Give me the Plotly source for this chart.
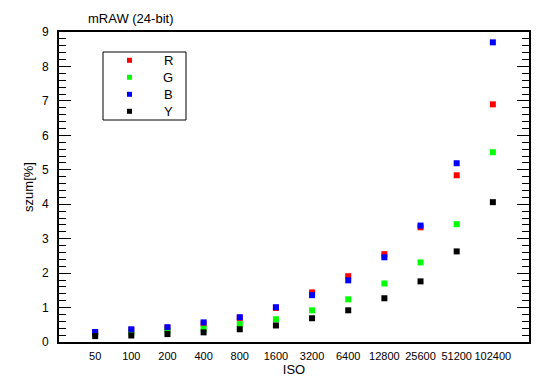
import plotly.graph_objects as go

iso = ["50", "100", "200", "400", "800", "1600", "3200", "6400", "12800", "25600", "51200", "102400"]
R = [0.27, 0.35, 0.41, 0.53, 0.70, 0.99, 1.44, 1.91, 2.55, 3.33, 4.84, 6.90]
G = [0.22, 0.28, 0.33, 0.39, 0.52, 0.66, 0.92, 1.24, 1.70, 2.31, 3.42, 5.51]
B = [0.29, 0.37, 0.43, 0.57, 0.72, 1.01, 1.36, 1.79, 2.46, 3.38, 5.19, 8.70]
Y = [0.17, 0.19, 0.23, 0.28, 0.37, 0.48, 0.69, 0.92, 1.27, 1.76, 2.63, 4.06]

names = ["R", "G", "B", "Y"]
colors = ["#ff0000", "#00ff00", "#0000ff", "#000000"]
values = [R, G, B, Y]
xs = list(range(len(iso)))

W, H = 550, 389
ML, MR, MT, MB = 59, 21, 32, 47
PW, PH = W - ML - MR, H - MT - MB

def px(xp):
    return (xp - ML) / PW

def py(yp):
    return (H - MB - yp) / PH

fig = go.Figure()
for name, vals, col in zip(names, values, colors):
    fig.add_trace(go.Scatter(
        x=xs, y=vals, mode="markers", name=name, showlegend=False,
        marker=dict(symbol="square", size=6, color=col, line=dict(width=0)),
    ))

font = "Liberation Sans, Arial, sans-serif"

# legend box (drawn manually to match the compact original)
LX0, LX1, LY0, LY1 = 103, 186, 52, 120
ROW0, ROWSTEP = 60.3, 17
shapes = [dict(type="rect", xref="paper", yref="paper", x0=px(LX0), x1=px(LX1),
               y0=py(LY1), y1=py(LY0), line=dict(color="black", width=1),
               fillcolor="white", layer="above")]
annotations = []
for i, (name, col) in enumerate(zip(names, colors)):
    cy = ROW0 + i * ROWSTEP
    shapes.append(dict(type="rect", xref="paper", yref="paper",
                       x0=px(127), x1=px(132), y0=py(cy + 2.5), y1=py(cy - 2.5),
                       line=dict(width=0), fillcolor=col, layer="above"))
    annotations.append(dict(text=name, xref="paper", yref="paper", x=px(168), y=py(cy),
                            xanchor="center", yanchor="middle", showarrow=False,
                            font=dict(family=font, size=13, color="black")))

fig.update_layout(
    width=W, height=H,
    margin=dict(l=ML, r=MR, t=MT, b=MB, autoexpand=False),
    paper_bgcolor="white", plot_bgcolor="white",
    font=dict(family=font, size=12, color="black"),
    showlegend=False, hovermode=False,
    shapes=shapes, annotations=annotations,
    title=dict(text="mRAW (24-bit)", x=88 / W, xanchor="left", xref="container",
               y=1 - 18 / H, yanchor="middle", yref="container",
               font=dict(family=font, size=13, color="black")),
)
fig.update_xaxes(
    range=[-1, 12], tickmode="array", tickvals=xs, ticktext=iso, tickangle=0,
    showgrid=False, zeroline=False, ticks="", automargin=False,
    showline=True, linecolor="black", linewidth=2, mirror=True,
    tickfont=dict(family=font, size=11, color="black"),
    ticklabelstandoff=3,
    title=dict(text="ISO", font=dict(family=font, size=13, color="black"), standoff=4),
)
fig.update_yaxes(
    range=[0, 9], tickmode="linear", tick0=0, dtick=1, automargin=False,
    showgrid=False, zeroline=False,
    ticks="inside", ticklen=12, tickwidth=1, tickcolor="black",
    minor=dict(ticks="inside", ticklen=7, dtick=0.2, tickcolor="black", tickwidth=1, showgrid=False),
    showline=True, linecolor="black", linewidth=2, mirror="ticks",
    tickfont=dict(family=font, size=12, color="black"),
    ticklabelstandoff=6,
    title=dict(text="szum[%]", font=dict(family=font, size=13, color="black"), standoff=5),
)
fig.write_html("out.html", config={"displayModeBar": False, "staticPlot": True},
               post_script="document.body.style.margin='0';document.body.style.overflow='hidden';")
